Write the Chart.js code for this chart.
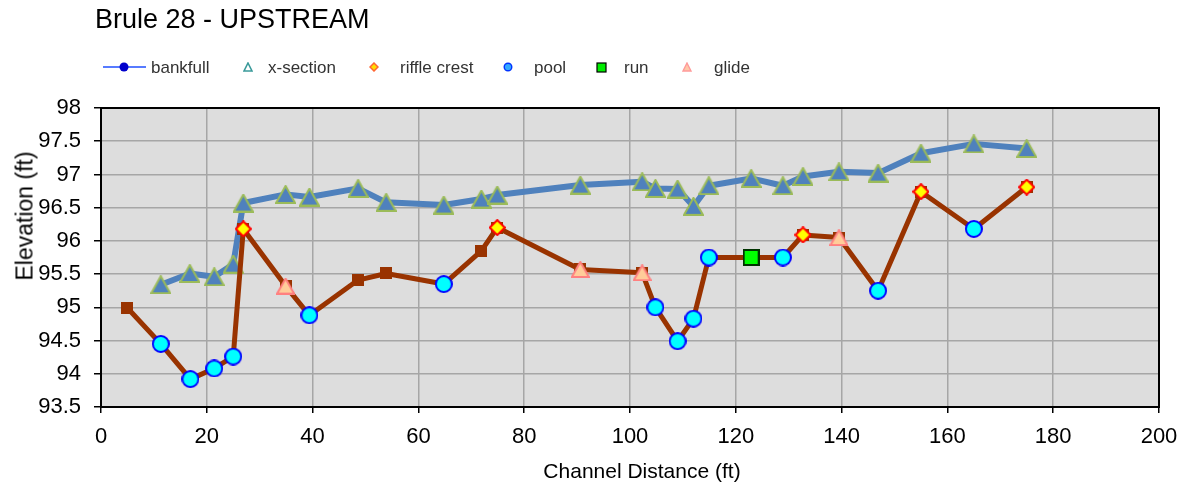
<!DOCTYPE html>
<html>
<head>
<meta charset="utf-8">
<script src="https://cdn.jsdelivr.net/npm/chart.js@4.4.1/dist/chart.umd.min.js"></script>
<style>
  html, body { margin: 0; padding: 0; background: #fff; }
  #wrap { position: relative; width: 1194px; height: 493px; overflow: hidden;
          font-family: "Liberation Sans", Arial, sans-serif; }
  #c { position: absolute; left: 0; top: 0; }
  .txt { position: absolute; white-space: nowrap; color: #000; }
  .lg { position: absolute; white-space: nowrap; color: #333; font-size: 17px; line-height: 17px; top: 59px; }
  .ico { position: absolute; }
</style>
</head>
<body>
<div id="wrap">
  <canvas id="c" width="1194" height="493"></canvas>
  <div class="txt" style="left:95px;top:6px;font-size:27px;line-height:27px;">Brule 28 - UPSTREAM</div>
  <div id="legend"></div>
  <div class="txt" style="left:25px;top:216px;font-size:23px;line-height:23px;transform:translate(-50%,-50%) rotate(-90deg);">Elevation (ft)</div>
  <div class="txt" style="left:642px;top:460px;font-size:21px;line-height:21px;transform:translateX(-50%);">Channel Distance (ft)</div>
</div>
<script>
// ---------------- data ----------------
// x-section / bankfull profile (blue line with triangles)
const xsDist = [11.3, 16.8, 21.4, 25.0, 26.9, 34.9, 39.4, 48.6, 53.9, 64.8, 71.9, 74.9, 90.6, 102.3, 104.8, 109.0, 112.0, 114.9, 122.9, 128.9, 132.7, 139.5, 146.9, 155.0, 165.0, 175.0];
const xsElev = [95.34, 95.51, 95.46, 95.65, 96.57, 96.70, 96.66, 96.79, 96.58, 96.54, 96.63, 96.69, 96.84, 96.89, 96.79, 96.78, 96.52, 96.83, 96.94, 96.83, 96.97, 97.04, 97.02, 97.32, 97.46, 97.39];

// thalweg profile (brown line with squares)
const thDist = [5.0, 11.3, 16.9, 21.4, 25.0, 26.9, 34.9, 39.4, 48.6, 53.9, 64.8, 71.9, 74.9, 90.6, 102.3, 104.8, 109.0, 112.0, 114.9, 122.9, 128.9, 132.7, 139.5, 146.9, 155.0, 165.0, 175.0];
const thElev = [94.99, 94.45, 93.92, 94.08, 94.26, 96.18, 95.32, 94.88, 95.41, 95.51, 95.35, 95.85, 96.20, 95.57, 95.52, 95.00, 94.49, 94.83, 95.75, 95.75, 95.75, 96.09, 96.05, 95.25, 96.74, 96.18, 96.81];

// bed features
const riffleDist = [26.9, 74.9, 132.7, 155.0, 175.0];
const riffleElev = [96.18, 96.20, 96.09, 96.74, 96.81];
const poolDist = [11.3, 16.9, 21.4, 25.0, 39.4, 64.8, 104.8, 109.0, 112.0, 114.9, 128.9, 146.9, 165.0];
const poolElev = [94.45, 93.92, 94.08, 94.26, 94.88, 95.35, 95.00, 94.49, 94.83, 95.75, 95.75, 95.25, 96.18];
const runDist = [122.9];
const runElev = [95.75];
const glideDist = [34.9, 90.6, 102.3, 139.5];
const glideElev = [95.32, 95.57, 95.52, 96.05];

// axis / legend labels
const legendLabels = ['bankfull', 'x-section', 'riffle crest', 'pool', 'run', 'glide'];
const xMin = 0, xMax = 200, xStep = 20;
const yMin = 93.5, yMax = 98, yStep = 0.5;

// ---------------- helpers ----------------
function pts(xs, ys) { return xs.map((x, i) => ({ x: x, y: ys[i] })); }

function marker(shape, w, h, fill, stroke, lw) {
  const c = document.createElement('canvas');
  c.width = w; c.height = h;
  const g = c.getContext('2d');
  g.fillStyle = fill; g.strokeStyle = stroke; g.lineWidth = lw; g.lineJoin = 'miter';
  const p = lw / 2;
  g.beginPath();
  if (shape === 'tri') {
    g.moveTo(w / 2, p); g.lineTo(w - p, h - p); g.lineTo(p, h - p); g.closePath();
  } else if (shape === 'rect') {
    g.rect(p, p, w - lw, h - lw);
  } else if (shape === 'circle') {
    g.arc(w / 2, h / 2, w / 2 - p, 0, Math.PI * 2);
  } else if (shape === 'diamond') {
    g.moveTo(w / 2, p); g.lineTo(w - p, h / 2); g.lineTo(w / 2, h - p); g.lineTo(p, h / 2); g.closePath();
  }
  g.fill();
  if (lw > 0) g.stroke();
  return c;
}

const mXs = marker('tri', 21, 19, '#4F81BD', '#9BBB59', 2);
const mTh = marker('rect', 12, 12, '#993300', '#993300', 0);
const mPool = marker('circle', 18, 18, '#00FFFF', '#0000FF', 2);
const mRiffle = marker('diamond', 17, 17, '#FFFF00', '#FF0000', 2);
const mRun = marker('rect', 17, 17, '#00FF00', '#003300', 2);
const mGlide = marker('tri', 19, 17, '#FFCC99', '#FF8080', 2);

// ---------------- legend (HTML) ----------------
(function () {
  const lg = document.getElementById('legend');
  const textLeft = [151, 268, 400, 534, 624, 714];
  const icons = [
    '<svg class="ico" style="left:103px;top:61px" width="44" height="12"><line x1="0" y1="6" x2="43" y2="6" stroke="#1F4FFF" stroke-width="1.5"/><circle cx="21" cy="6" r="4.5" fill="#0000CC"/></svg>',
    '<svg class="ico" style="left:243px;top:62px" width="10" height="10"><polygon points="5,1 9,9 1,9" fill="none" stroke="#3A9A9A" stroke-width="1.6"/></svg>',
    '<svg class="ico" style="left:369px;top:62px" width="10" height="10"><polygon points="5,1 9,5 5,9 1,5" fill="#FFDD00" stroke="#FF6633" stroke-width="1.5"/></svg>',
    '<svg class="ico" style="left:503px;top:62px" width="10" height="10"><circle cx="5" cy="5" r="3.8" fill="#33AAFF" stroke="#0033FF" stroke-width="1.4"/></svg>',
    '<svg class="ico" style="left:596px;top:62px" width="11" height="11"><rect x="1" y="1" width="9" height="9" fill="#00EE00" stroke="#000" stroke-width="1.2"/></svg>',
    '<svg class="ico" style="left:682px;top:62px" width="10" height="10"><polygon points="5,1 9,9 1,9" fill="#FFC8A8" stroke="#FF9A9A" stroke-width="1.4"/></svg>'
  ];
  let html = '';
  legendLabels.forEach((t, i) => {
    html += icons[i] + '<div class="lg" style="left:' + textLeft[i] + 'px">' + t + '</div>';
  });
  lg.innerHTML = html;
})();

// ---------------- chart ----------------
Chart.defaults.font.family = '"Liberation Sans", Arial, sans-serif';

const framePlugin = {
  id: 'frame',
  beforeDraw(chart) {
    const { ctx, chartArea: a } = chart;
    ctx.save();
    ctx.fillStyle = '#DDDDDD';
    ctx.fillRect(a.left, a.top, a.right - a.left, a.bottom - a.top);
    ctx.restore();
  },
  beforeDatasetsDraw(chart) {
    const { ctx, chartArea: a } = chart;
    ctx.save();
    ctx.strokeStyle = '#000';
    ctx.lineWidth = 2;
    ctx.strokeRect(a.left, a.top, a.right - a.left, a.bottom - a.top);
    ctx.restore();
  }
};

new Chart(document.getElementById('c'), {
  type: 'scatter',
  data: {
    datasets: [
      { label: 'riffle crest', data: pts(riffleDist, riffleElev), showLine: false,
        pointStyle: mRiffle, pointRadius: 6, order: 0 },
      { label: 'pool', data: pts(poolDist, poolElev), showLine: false,
        pointStyle: mPool, pointRadius: 6, order: 0 },
      { label: 'run', data: pts(runDist, runElev), showLine: false,
        pointStyle: mRun, pointRadius: 6, order: 0 },
      { label: 'glide', data: pts(glideDist, glideElev), showLine: false,
        pointStyle: mGlide, pointRadius: 6, order: 0 },
      { label: 'thalweg', data: pts(thDist, thElev), showLine: true,
        borderColor: '#993300', borderWidth: 5, borderJoinStyle: 'round', borderCapStyle: 'round',
        tension: 0, pointStyle: mTh, pointRadius: 6, order: 1 },
      { label: 'x-section', data: pts(xsDist, xsElev), showLine: true,
        borderColor: '#4F81BD', borderWidth: 6, borderJoinStyle: 'round', borderCapStyle: 'round',
        tension: 0, pointStyle: mXs, pointRadius: 6, order: 2 }
    ]
  },
  options: {
    responsive: false,
    animation: false,
    devicePixelRatio: 1,
    events: [],
    layout: { padding: { left: 0, right: 35, top: 108, bottom: 0 } },
    plugins: {
      legend: { display: false },
      title: { display: false },
      tooltip: { enabled: false }
    },
    scales: {
      x: {
        type: 'linear', min: xMin, max: xMax,
        ticks: { stepSize: xStep, font: { size: 22 }, color: '#000', padding: 11, maxRotation: 0, autoSkip: false },
        grid: { color: '#A6A6A6', lineWidth: 1.5, drawTicks: true, tickLength: 6, tickColor: '#000', tickWidth: 1.5 },
        border: { color: '#000', width: 2 },
        afterFit(s) { s.height = 86; }
      },
      y: {
        type: 'linear', min: yMin, max: yMax,
        ticks: { stepSize: yStep, font: { size: 22 }, color: '#000', padding: 13, autoSkip: false,
                 callback: (v) => String(Number(Number(v).toFixed(1))) },
        grid: { color: '#A6A6A6', lineWidth: 1.5, drawTicks: true, tickLength: 7, tickColor: '#000', tickWidth: 1.5 },
        border: { color: '#000', width: 2 },
        afterFit(s) { s.width = 101; }
      }
    }
  },
  plugins: [framePlugin]
});
</script>
</body>
</html>
